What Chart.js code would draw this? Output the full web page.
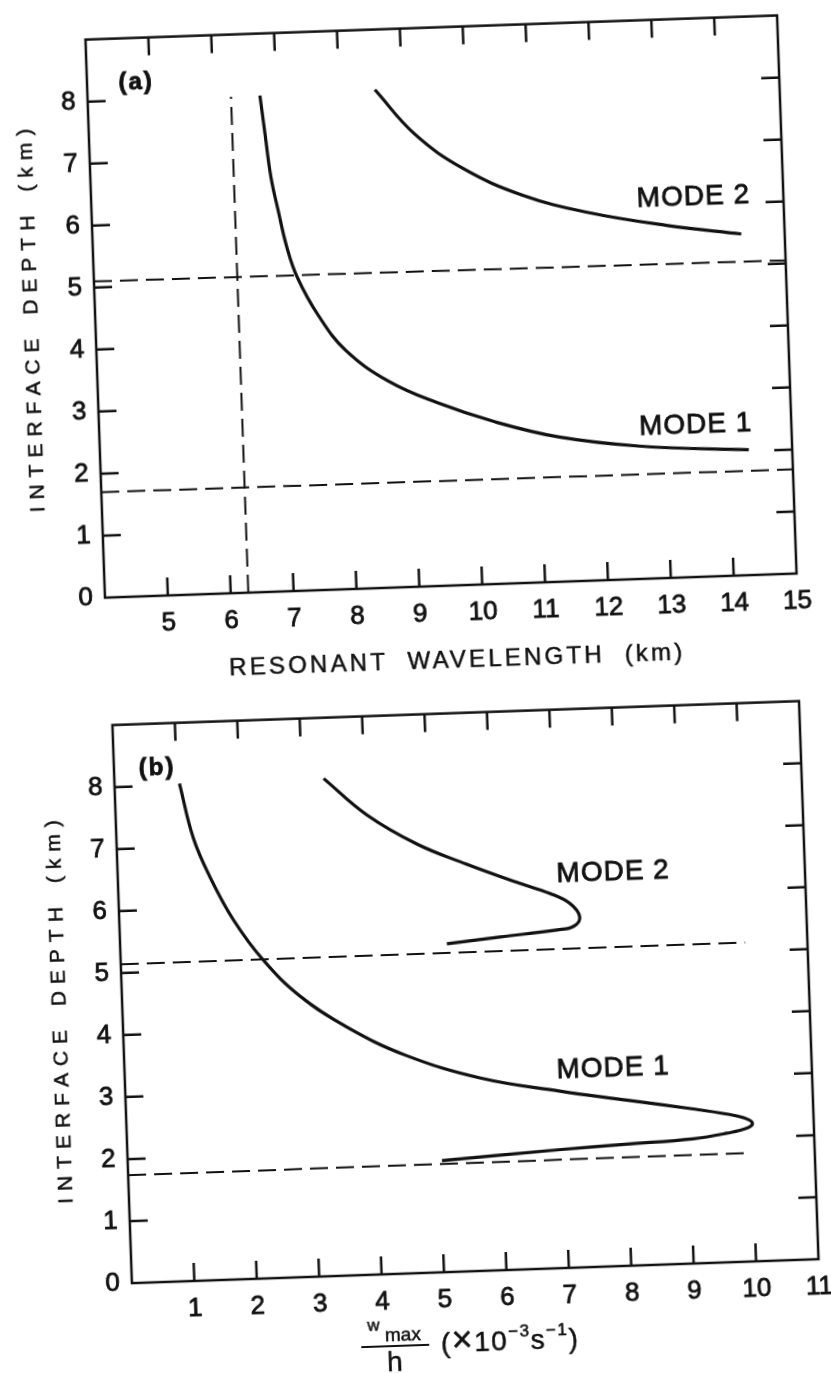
<!DOCTYPE html>
<html>
<head>
<meta charset="utf-8">
<script src="https://cdn.jsdelivr.net/npm/chart.js@4.4.0/dist/chart.umd.min.js"></script>
<style>
  html, body { margin: 0; padding: 0; background: #fff; }
  body { width: 831px; height: 1373px; overflow: hidden; position: relative; }
  /* the whole sheet sits a little askew */
  #sheet { position: absolute; left: 0; top: 0; width: 831px; height: 1373px;
           transform: rotate(-2deg); transform-origin: 440px 650px; }
  canvas { position: absolute; left: 0; }
  #cvA { top: 0; }
  #cvB { top: 686px; }
  .lbl { position: absolute; color: #111; white-space: nowrap; line-height: 1;
         font-family: "Liberation Sans", Arial, sans-serif; transform: translate(-50%, -50%);
         -webkit-text-stroke: 0.5px #111; }
  .xt { font-size: 24px; letter-spacing: 3.2px; word-spacing: 10px; }
  .yt { font-size: 21px; letter-spacing: 7px; word-spacing: 4px;
        transform: translate(-50%, -50%) rotate(-90deg); }
  .bar { position: absolute; width: 68px; height: 2px; background: #111; transform: translate(-50%, -50%); }
  .sup { position: relative; top: -0.75em; font-size: 17px; }
</style>
</head>
<body>
<div id="sheet">
  <canvas id="cvA" width="831" height="686"></canvas>
  <canvas id="cvB" width="831" height="687"></canvas>

  <div class="lbl yt" style="left:42px; top:303px;">INTERFACE DEPTH (km)</div>
  <div class="lbl xt" style="left:457px; top:660px;">RESONANT WAVELENGTH (km)</div>

  <div class="lbl yt" style="left:46px; top:995px;">INTERFACE DEPTH (km)</div>
  <div class="lbl" style="left:350px; top:1322px; font-size:17px;">w</div>
  <div class="lbl" style="left:379px; top:1332px; font-size:19px;">max</div>
  <div class="bar" style="left:371px; top:1344px;"></div>
  <div class="lbl" style="left:370px; top:1360px; font-size:28px;">h</div>
  <div class="lbl" style="left:486px; top:1340px; font-size:28px; letter-spacing:1.5px;">(<span style="font-size:36px;">×</span>10<span class="sup">−3</span>s<span class="sup">−1</span>)</div>
</div>

<script>
// (a) depth of the interface against resonant wavelength
const mode1A_x = [6.74, 6.80, 6.87, 6.97, 7.08, 7.23, 7.55, 7.96, 8.62, 9.37, 10.30, 11.31, 12.58, 14.31];
const mode1A_y = [8.00, 7.38, 6.68, 6.12, 5.56, 5.06, 4.42, 3.85, 3.33, 2.96, 2.61, 2.33, 2.14, 2.02];
const mode2A_x = [8.57, 9.18, 9.93, 10.85, 11.86, 13.13, 14.31];
const mode2A_y = [8.03, 7.29, 6.71, 6.25, 5.94, 5.68, 5.50];
const upperA_x = [4, 15];
const upperA_y = [5.10, 5.05];
const lowerA_x = [4, 15];
const lowerA_y = [1.70, 1.68];
const cutA_x = [6.28, 6.28];
const cutA_y = [0, 8.0];

// (b) depth of the interface against w_max / h
const mode1B_x = [1.04, 1.23, 1.48, 1.83, 2.29, 2.85, 3.59, 4.50, 5.68, 6.96, 8.02, 9.08, 9.61, 9.88, 10.02, 9.93, 9.60, 9.06, 8.00, 6.93, 5.03];
const mode1B_y = [8.02, 7.14, 6.49, 5.79, 5.12, 4.53, 4.00, 3.52, 3.11, 2.85, 2.67, 2.49, 2.39, 2.32, 2.23, 2.15, 2.08, 2.01, 1.96, 1.91, 1.80];
const mode2B_x = [3.35, 4.02, 4.81, 5.59, 6.38, 6.91, 7.22, 7.37, 7.27, 7.00, 6.09, 5.23];
const mode2B_y = [8.02, 7.41, 6.91, 6.56, 6.24, 6.04, 5.87, 5.65, 5.50, 5.45, 5.37, 5.29];
const upperB_x = [0, 10.0];
const upperB_y = [5.14, 5.14];
const lowerB_x = [0, 9.95];
const lowerB_y = [1.74, 1.75];

// tick label ranges
const xRangeA = [4, 15];
const xRangeB = [0, 11];
const yRange = [0, 9];

// text written inside each frame, in data units
const notesA = [
  { text: '(a)', x: 4.78, y: 8.28, bold: true },
  { text: 'MODE 2', x: 13.57, y: 6.12 },
  { text: 'MODE 1', x: 13.48, y: 2.45 }
];
const notesB = [
  { text: '(b)', x: 0.69, y: 8.28, bold: true },
  { text: 'MODE 2', x: 7.93, y: 6.35 },
  { text: 'MODE 1', x: 7.82, y: 3.18 }
];

const INK = '#111';
const FONT = '"Liberation Sans", Arial, sans-serif';
const TICK = 18;

function pts(xs, ys) {
  return xs.map((x, i) => ({ x: x, y: ys[i] }));
}
function solid(xs, ys) {
  return { data: pts(xs, ys), showLine: true, borderColor: INK, borderWidth: 3.2,
           pointRadius: 0, tension: 0.4, fill: false };
}
function dashed(xs, ys) {
  return { data: pts(xs, ys), showLine: true, borderColor: INK, borderWidth: 2,
           borderDash: [18, 8], pointRadius: 0, tension: 0, fill: false };
}

// box round the plot, inward ticks on all four sides, and the labels
const frame = {
  id: 'frame',
  afterDatasetsDraw(chart, args, opts) {
    const { ctx, chartArea: a, scales: { x, y } } = chart;
    ctx.save();
    ctx.strokeStyle = INK;
    ctx.lineWidth = 2.5;
    ctx.strokeRect(a.left, a.top, a.right - a.left, a.bottom - a.top);
    ctx.beginPath();
    x.ticks.forEach(t => {
      if (t.value <= x.min || t.value >= x.max) return;
      const px = x.getPixelForValue(t.value);
      ctx.moveTo(px, a.bottom); ctx.lineTo(px, a.bottom - TICK);
      ctx.moveTo(px, a.top); ctx.lineTo(px, a.top + TICK);
    });
    y.ticks.forEach(t => {
      if (t.value <= y.min || t.value >= y.max) return;
      const py = y.getPixelForValue(t.value);
      ctx.moveTo(a.left, py); ctx.lineTo(a.left + TICK, py);
      ctx.moveTo(a.right, py); ctx.lineTo(a.right - TICK, py);
    });
    ctx.stroke();

    ctx.fillStyle = INK;
    ctx.lineWidth = 0.8;
    ctx.textAlign = 'center';
    ctx.textBaseline = 'middle';
    (opts.notes || []).forEach(n => {
      ctx.font = n.bold ? 'bold 24px ' + FONT : '28px ' + FONT;
      ctx.letterSpacing = n.bold ? '2px' : '1px';
      const px = x.getPixelForValue(n.x), py = y.getPixelForValue(n.y);
      ctx.fillText(n.text, px, py);
      ctx.strokeText(n.text, px, py);
    });
    ctx.restore();
  }
};

function axes(xRange, hideX, left, bottom) {
  const tickFont = { family: FONT, size: 26 };
  return {
    x: {
      type: 'linear', min: xRange[0], max: xRange[1],
      grid: { display: false, drawTicks: false }, border: { display: false },
      ticks: { stepSize: 1, autoSkip: false, maxRotation: 0, padding: 12, color: INK, font: tickFont,
               textStrokeColor: INK, textStrokeWidth: 0.8,
               callback: v => (v === hideX ? '' : String(v)) },
      afterFit: s => { s.height = bottom; }
    },
    y: {
      type: 'linear', min: yRange[0], max: yRange[1],
      grid: { display: false, drawTicks: false }, border: { display: false },
      ticks: { stepSize: 1, autoSkip: false, padding: 12, color: INK, font: tickFont,
               textStrokeColor: INK, textStrokeWidth: 0.8,
               callback: v => (v === yRange[1] ? '' : String(v)) },
      afterFit: s => { s.width = left; }
    }
  };
}

new Chart(document.getElementById('cvA'), {
  type: 'scatter',
  data: {
    datasets: [
      dashed(upperA_x, upperA_y),
      dashed(lowerA_x, lowerA_y),
      dashed(cutA_x, cutA_y),
      solid(mode1A_x, mode1A_y),
      solid(mode2A_x, mode2A_y)
    ]
  },
  options: {
    responsive: false,
    animation: false,
    layout: { padding: { top: 25, right: 32, left: 0, bottom: 0 } },
    plugins: { legend: { display: false }, tooltip: { enabled: false }, frame: { notes: notesA } },
    scales: axes(xRangeA, xRangeA[0], 107, 100)
  },
  plugins: [frame]
});

new Chart(document.getElementById('cvB'), {
  type: 'scatter',
  data: {
    datasets: [
      dashed(upperB_x, upperB_y),
      dashed(lowerB_x, lowerB_y),
      solid(mode1B_x, mode1B_y),
      solid(mode2B_x, mode2B_y)
    ]
  },
  options: {
    responsive: false,
    animation: false,
    layout: { padding: { top: 22, right: 34, left: 0, bottom: 0 } },
    plugins: { legend: { display: false }, tooltip: { enabled: false }, frame: { notes: notesB } },
    scales: axes(xRangeB, xRangeB[0], 110, 101)
  },
  plugins: [frame]
});
</script>
</body>
</html>
